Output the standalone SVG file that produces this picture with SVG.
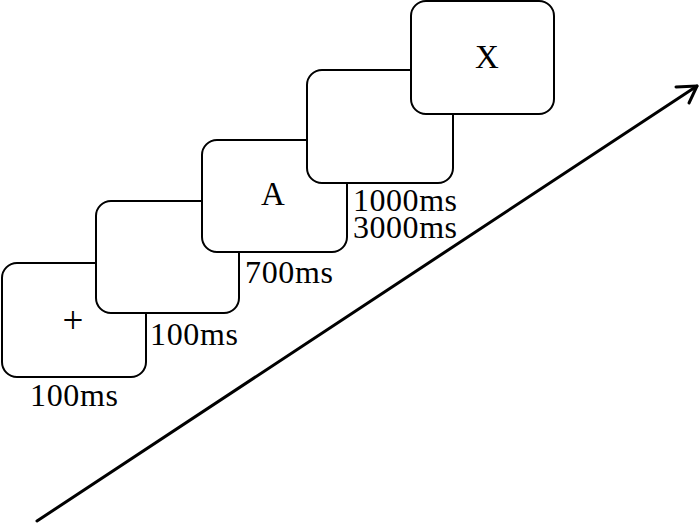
<svg xmlns="http://www.w3.org/2000/svg" width="700" height="523" viewBox="0 0 700 523">
<style>
.box{fill:#fff;stroke:#000;stroke-width:2}
.t{font-family:"Liberation Serif","Times New Roman",serif;fill:#000}
.lbl{font-size:32px}
.sym{font-size:33px;text-anchor:middle}
.arr{fill:none;stroke:#000;stroke-width:3;stroke-linecap:round;stroke-linejoin:round}
</style>
<rect width="700" height="523" fill="#fff"/>
<g id="screen1"><rect class="box" x="2" y="263" width="144" height="114" rx="15"/><text class="t sym" x="73" y="333" style="font-size:37px">+</text></g>
<g id="screen2"><rect class="box" x="96" y="201" width="143" height="112" rx="15"/></g>
<g id="screen3"><rect class="box" x="202" y="140" width="145" height="112" rx="15"/><text class="t sym" x="273" y="205">A</text></g>
<g id="screen4"><rect class="box" x="307" y="70" width="146" height="113" rx="15"/></g>
<g id="screen5"><rect class="box" x="411" y="1" width="143" height="113" rx="15"/><text class="t sym" x="487" y="68">X</text></g>
<g id="labels">
<text class="t lbl" x="30" y="406" textLength="88">100ms</text>
<text class="t lbl" x="150" y="345" textLength="88">100ms</text>
<text class="t lbl" x="245" y="283" textLength="88">700ms</text>
<text class="t lbl" x="353" y="211" textLength="104">1000ms</text>
<text class="t lbl" x="353" y="238" textLength="104">3000ms</text>
</g>
<g id="connectors">
<path class="arr" d="M37 521 L697 86"/>
<path class="arr" d="M676 87 L697 86 L689 103"/>
</g>
</svg>
